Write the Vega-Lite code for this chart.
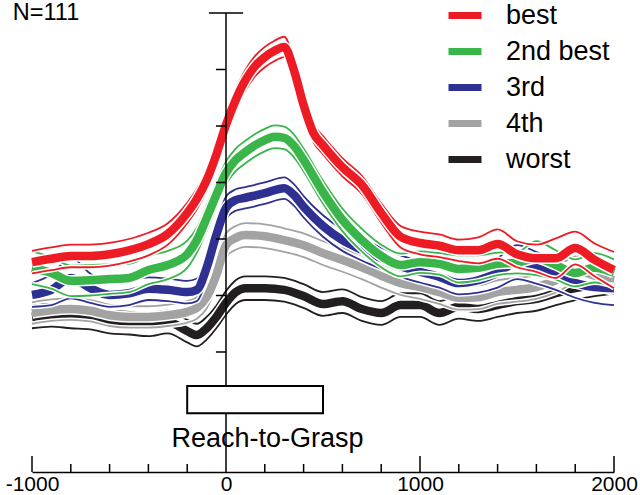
{
"$schema":"https://vega.github.io/schema/vega-lite/v6.json",
"autosize":{"type":"none"},
"padding":{"left":32,"top":13,"right":26,"bottom":23},
"width":582,"height":459,
"config":{"view":{"stroke":null},"font":"Liberation Sans","axisY":{"disable":true},"axisX":{"ticks":false,"grid":false,"domain":true,"domainColor":"black","domainWidth":1.5,"labelFont":"Liberation Sans","labelFontSize":21,"labelColor":"black","labelPadding":1,"labelFlush":false,"labelOverlap":false,"titleOpacity":0},"legend":{"orient":"none","legendX":413,"legendY":-17.5,"symbolType":"stroke","symbolStrokeWidth":7,"symbolSize":1089,"symbolOpacity":1,"labelFont":"Liberation Sans","labelFontSize":27,"labelColor":"black","labelOffset":21,"rowPadding":2,"padding":0}},
"data":{"values":[
{"s":"best","t":-1000,"m":35.9,"lo":33.9,"hi":37.9},{"s":"best","t":-900,"m":36.5,"lo":34.5,"hi":38.5},{"s":"best","t":-800,"m":37.0,"lo":35.0,"hi":39.0},{"s":"best","t":-700,"m":37.0,"lo":35.0,"hi":39.0},{"s":"best","t":-600,"m":37.3,"lo":35.3,"hi":39.3},{"s":"best","t":-500,"m":38.0,"lo":36.0,"hi":40.0},{"s":"best","t":-400,"m":39.1,"lo":37.1,"hi":41.1},{"s":"best","t":-300,"m":40.9,"lo":39.0,"hi":42.8},{"s":"best","t":-200,"m":44.6,"lo":42.8,"hi":46.4},{"s":"best","t":-150,"m":47.1,"lo":45.3,"hi":48.9},{"s":"best","t":-100,"m":50.4,"lo":48.6,"hi":52.2},{"s":"best","t":-50,"m":54.9,"lo":53.1,"hi":56.7},{"s":"best","t":0,"m":60.2,"lo":58.4,"hi":62.0},{"s":"best","t":50,"m":64.6,"lo":62.8,"hi":66.4},{"s":"best","t":100,"m":68.1,"lo":66.3,"hi":69.9},{"s":"best","t":150,"m":70.6,"lo":68.8,"hi":72.4},{"s":"best","t":200,"m":72.2,"lo":70.4,"hi":74.0},{"s":"best","t":250,"m":73.3,"lo":71.5,"hi":75.1},{"s":"best","t":300,"m":74.0,"lo":72.2,"hi":75.8},{"s":"best","t":350,"m":69.9,"lo":68.2,"hi":71.6},{"s":"best","t":400,"m":63.7,"lo":62.1,"hi":65.3},{"s":"best","t":450,"m":58.8,"lo":57.2,"hi":60.4},{"s":"best","t":500,"m":56.6,"lo":55.0,"hi":58.2},{"s":"best","t":600,"m":52.7,"lo":51.1,"hi":54.3},{"s":"best","t":700,"m":49.6,"lo":48.0,"hi":51.2},{"s":"best","t":800,"m":44.6,"lo":42.9,"hi":46.3},{"s":"best","t":900,"m":40.4,"lo":38.5,"hi":42.3},{"s":"best","t":1000,"m":39.3,"lo":37.3,"hi":41.3},{"s":"best","t":1100,"m":38.8,"lo":36.8,"hi":40.8},{"s":"best","t":1200,"m":38.0,"lo":36.1,"hi":39.9},{"s":"best","t":1300,"m":38.0,"lo":35.7,"hi":40.3},{"s":"best","t":1400,"m":39.1,"lo":36.5,"hi":41.7},{"s":"best","t":1500,"m":37.3,"lo":35.0,"hi":39.6},{"s":"best","t":1600,"m":36.6,"lo":34.2,"hi":39.0},{"s":"best","t":1700,"m":36.6,"lo":33.1,"hi":40.1},{"s":"best","t":1800,"m":38.4,"lo":35.5,"hi":41.3},{"s":"best","t":1900,"m":36.3,"lo":33.4,"hi":39.2},{"s":"best","t":2000,"m":34.5,"lo":31.3,"hi":37.7},
{"s":"2nd best","t":-1000,"m":34.9,"lo":32.0,"hi":37.8},{"s":"2nd best","t":-900,"m":34.0,"lo":31.2,"hi":36.8},{"s":"2nd best","t":-800,"m":32.6,"lo":29.9,"hi":35.3},{"s":"2nd best","t":-700,"m":32.7,"lo":30.0,"hi":35.4},{"s":"2nd best","t":-600,"m":32.9,"lo":30.3,"hi":35.5},{"s":"2nd best","t":-500,"m":33.1,"lo":30.6,"hi":35.6},{"s":"2nd best","t":-400,"m":34.5,"lo":32.0,"hi":37.0},{"s":"2nd best","t":-300,"m":35.4,"lo":32.9,"hi":37.9},{"s":"2nd best","t":-200,"m":37.3,"lo":34.9,"hi":39.7},{"s":"2nd best","t":-150,"m":39.8,"lo":37.6,"hi":42.0},{"s":"2nd best","t":-100,"m":43.7,"lo":41.5,"hi":45.9},{"s":"2nd best","t":-50,"m":47.8,"lo":45.7,"hi":49.9},{"s":"2nd best","t":0,"m":51.7,"lo":49.7,"hi":53.7},{"s":"2nd best","t":50,"m":54.0,"lo":52.0,"hi":56.0},{"s":"2nd best","t":100,"m":55.4,"lo":53.4,"hi":57.4},{"s":"2nd best","t":150,"m":56.6,"lo":54.6,"hi":58.6},{"s":"2nd best","t":200,"m":57.5,"lo":55.5,"hi":59.5},{"s":"2nd best","t":250,"m":58.1,"lo":56.1,"hi":60.1},{"s":"2nd best","t":300,"m":57.9,"lo":55.9,"hi":59.9},{"s":"2nd best","t":350,"m":56.5,"lo":54.5,"hi":58.5},{"s":"2nd best","t":400,"m":54.0,"lo":52.0,"hi":56.0},{"s":"2nd best","t":500,"m":48.3,"lo":46.3,"hi":50.3},{"s":"2nd best","t":600,"m":43.4,"lo":41.4,"hi":45.4},{"s":"2nd best","t":700,"m":39.8,"lo":37.8,"hi":41.8},{"s":"2nd best","t":800,"m":37.0,"lo":35.0,"hi":39.0},{"s":"2nd best","t":900,"m":35.4,"lo":33.4,"hi":37.4},{"s":"2nd best","t":1000,"m":35.9,"lo":34.0,"hi":37.8},{"s":"2nd best","t":1100,"m":35.6,"lo":33.7,"hi":37.5},{"s":"2nd best","t":1200,"m":34.7,"lo":32.3,"hi":37.1},{"s":"2nd best","t":1300,"m":34.9,"lo":32.7,"hi":37.1},{"s":"2nd best","t":1400,"m":35.6,"lo":33.6,"hi":37.6},{"s":"2nd best","t":1500,"m":35.8,"lo":33.9,"hi":37.7},{"s":"2nd best","t":1600,"m":36.6,"lo":33.6,"hi":39.6},{"s":"2nd best","t":1700,"m":35.4,"lo":32.8,"hi":38.0},{"s":"2nd best","t":1800,"m":34.0,"lo":31.6,"hi":36.4},{"s":"2nd best","t":1900,"m":34.9,"lo":32.3,"hi":37.5},{"s":"2nd best","t":2000,"m":34.0,"lo":31.6,"hi":36.4},
{"s":"3rd","t":-1000,"m":30.1,"lo":28.0,"hi":32.2},{"s":"3rd","t":-900,"m":31.0,"lo":28.3,"hi":33.7},{"s":"3rd","t":-800,"m":33.1,"lo":29.5,"hi":36.7},{"s":"3rd","t":-700,"m":31.3,"lo":28.7,"hi":33.9},{"s":"3rd","t":-600,"m":30.1,"lo":28.0,"hi":32.2},{"s":"3rd","t":-500,"m":30.4,"lo":28.3,"hi":32.5},{"s":"3rd","t":-400,"m":31.2,"lo":29.2,"hi":33.2},{"s":"3rd","t":-300,"m":31.0,"lo":29.0,"hi":33.0},{"s":"3rd","t":-200,"m":30.6,"lo":28.6,"hi":32.6},{"s":"3rd","t":-150,"m":31.0,"lo":29.0,"hi":33.0},{"s":"3rd","t":-100,"m":34.9,"lo":32.9,"hi":36.9},{"s":"3rd","t":-50,"m":40.7,"lo":38.7,"hi":42.7},{"s":"3rd","t":0,"m":45.5,"lo":43.5,"hi":47.5},{"s":"3rd","t":50,"m":46.9,"lo":45.0,"hi":48.8},{"s":"3rd","t":100,"m":47.3,"lo":45.4,"hi":49.2},{"s":"3rd","t":200,"m":48.1,"lo":46.2,"hi":50.0},{"s":"3rd","t":300,"m":49.0,"lo":47.1,"hi":50.9},{"s":"3rd","t":350,"m":47.8,"lo":45.9,"hi":49.7},{"s":"3rd","t":400,"m":45.7,"lo":43.8,"hi":47.6},{"s":"3rd","t":500,"m":42.3,"lo":40.4,"hi":44.2},{"s":"3rd","t":600,"m":39.8,"lo":37.9,"hi":41.7},{"s":"3rd","t":700,"m":38.1,"lo":36.2,"hi":40.0},{"s":"3rd","t":800,"m":36.6,"lo":34.7,"hi":38.5},{"s":"3rd","t":900,"m":35.2,"lo":33.3,"hi":37.1},{"s":"3rd","t":1000,"m":34.2,"lo":32.3,"hi":36.1},{"s":"3rd","t":1100,"m":33.3,"lo":31.4,"hi":35.2},{"s":"3rd","t":1200,"m":32.2,"lo":30.2,"hi":34.2},{"s":"3rd","t":1300,"m":32.7,"lo":30.5,"hi":34.9},{"s":"3rd","t":1400,"m":34.0,"lo":31.4,"hi":36.6},{"s":"3rd","t":1500,"m":35.9,"lo":32.9,"hi":38.9},{"s":"3rd","t":1600,"m":34.9,"lo":32.1,"hi":37.7},{"s":"3rd","t":1700,"m":33.6,"lo":31.0,"hi":36.2},{"s":"3rd","t":1800,"m":32.2,"lo":29.6,"hi":34.8},{"s":"3rd","t":1900,"m":31.5,"lo":28.7,"hi":34.3},{"s":"3rd","t":2000,"m":31.3,"lo":28.3,"hi":34.3},
{"s":"4th","t":-1000,"m":26.9,"lo":25.0,"hi":28.8},{"s":"4th","t":-900,"m":27.4,"lo":25.5,"hi":29.3},{"s":"4th","t":-800,"m":27.6,"lo":25.7,"hi":29.5},{"s":"4th","t":-700,"m":27.3,"lo":25.4,"hi":29.2},{"s":"4th","t":-600,"m":26.5,"lo":24.6,"hi":28.4},{"s":"4th","t":-500,"m":26.2,"lo":24.3,"hi":28.1},{"s":"4th","t":-400,"m":26.2,"lo":24.3,"hi":28.1},{"s":"4th","t":-300,"m":26.5,"lo":24.6,"hi":28.4},{"s":"4th","t":-200,"m":27.1,"lo":25.2,"hi":29.0},{"s":"4th","t":-150,"m":27.8,"lo":25.9,"hi":29.7},{"s":"4th","t":-100,"m":29.7,"lo":27.7,"hi":31.7},{"s":"4th","t":-50,"m":33.6,"lo":31.6,"hi":35.6},{"s":"4th","t":0,"m":38.9,"lo":36.8,"hi":41.0},{"s":"4th","t":50,"m":40.2,"lo":38.1,"hi":42.3},{"s":"4th","t":100,"m":40.7,"lo":38.6,"hi":42.8},{"s":"4th","t":200,"m":40.5,"lo":38.4,"hi":42.6},{"s":"4th","t":300,"m":39.8,"lo":37.7,"hi":41.9},{"s":"4th","t":400,"m":38.9,"lo":36.8,"hi":41.0},{"s":"4th","t":500,"m":37.5,"lo":35.4,"hi":39.6},{"s":"4th","t":600,"m":36.3,"lo":34.2,"hi":38.4},{"s":"4th","t":700,"m":35.0,"lo":32.9,"hi":37.1},{"s":"4th","t":800,"m":33.5,"lo":31.4,"hi":35.6},{"s":"4th","t":900,"m":32.2,"lo":30.1,"hi":34.3},{"s":"4th","t":1000,"m":31.5,"lo":29.4,"hi":33.6},{"s":"4th","t":1100,"m":30.6,"lo":28.5,"hi":32.7},{"s":"4th","t":1200,"m":29.6,"lo":27.5,"hi":31.7},{"s":"4th","t":1300,"m":29.7,"lo":27.6,"hi":31.8},{"s":"4th","t":1400,"m":30.6,"lo":28.5,"hi":32.7},{"s":"4th","t":1500,"m":31.0,"lo":28.9,"hi":33.1},{"s":"4th","t":1600,"m":31.5,"lo":29.4,"hi":33.6},{"s":"4th","t":1700,"m":32.7,"lo":30.5,"hi":34.9},{"s":"4th","t":1800,"m":34.5,"lo":32.1,"hi":36.9},{"s":"4th","t":1900,"m":33.5,"lo":31.1,"hi":35.9},{"s":"4th","t":2000,"m":32.7,"lo":30.3,"hi":35.1},
{"s":"worst","t":-1000,"m":26.2,"lo":24.2,"hi":28.2},{"s":"worst","t":-900,"m":26.5,"lo":24.5,"hi":28.5},{"s":"worst","t":-800,"m":26.2,"lo":24.2,"hi":28.2},{"s":"worst","t":-700,"m":26.0,"lo":24.0,"hi":28.0},{"s":"worst","t":-600,"m":25.3,"lo":23.3,"hi":27.3},{"s":"worst","t":-500,"m":25.1,"lo":23.1,"hi":27.1},{"s":"worst","t":-400,"m":24.8,"lo":22.8,"hi":26.8},{"s":"worst","t":-300,"m":25.3,"lo":23.3,"hi":27.3},{"s":"worst","t":-200,"m":23.7,"lo":21.7,"hi":25.7},{"s":"worst","t":-150,"m":23.0,"lo":21.0,"hi":25.0},{"s":"worst","t":-100,"m":24.2,"lo":22.2,"hi":26.2},{"s":"worst","t":-50,"m":26.2,"lo":24.2,"hi":28.2},{"s":"worst","t":0,"m":28.7,"lo":26.6,"hi":30.8},{"s":"worst","t":50,"m":30.6,"lo":28.5,"hi":32.7},{"s":"worst","t":100,"m":31.3,"lo":29.2,"hi":33.4},{"s":"worst","t":200,"m":31.3,"lo":29.2,"hi":33.4},{"s":"worst","t":300,"m":31.0,"lo":28.9,"hi":33.1},{"s":"worst","t":400,"m":29.9,"lo":27.8,"hi":32.0},{"s":"worst","t":500,"m":28.5,"lo":26.4,"hi":30.6},{"s":"worst","t":600,"m":29.0,"lo":26.9,"hi":31.1},{"s":"worst","t":700,"m":27.6,"lo":25.5,"hi":29.7},{"s":"worst","t":800,"m":26.9,"lo":24.8,"hi":29.0},{"s":"worst","t":900,"m":28.3,"lo":26.2,"hi":30.4},{"s":"worst","t":1000,"m":28.3,"lo":26.2,"hi":30.4},{"s":"worst","t":1100,"m":26.9,"lo":24.8,"hi":29.0},{"s":"worst","t":1200,"m":28.0,"lo":25.9,"hi":30.1},{"s":"worst","t":1300,"m":27.6,"lo":25.5,"hi":29.7},{"s":"worst","t":1400,"m":28.3,"lo":26.2,"hi":30.4},{"s":"worst","t":1500,"m":29.0,"lo":26.9,"hi":31.1},{"s":"worst","t":1600,"m":29.4,"lo":27.3,"hi":31.5},{"s":"worst","t":1700,"m":30.4,"lo":28.3,"hi":32.5},{"s":"worst","t":1800,"m":31.3,"lo":29.2,"hi":33.4},{"s":"worst","t":1900,"m":32.0,"lo":29.9,"hi":34.1},{"s":"worst","t":2000,"m":32.4,"lo":30.3,"hi":34.5}
]},
"layer":[
{"transform":[{"filter":"datum.s==='worst'"}],"encoding":{"x":{"field":"t","type":"quantitative","title":null,"scale":{"domain":[-1000,2000],"nice":false,"zero":false},"axis":{"values":[-1000,0,1000,2000],"labelExpr":"'' + datum.value"}}},"layer":[
 {"transform":[{"fold":["hi","lo"],"as":["k","v"]}],"mark":{"type":"line","interpolate":"monotone","stroke":"white","strokeWidth":4.8},"encoding":{"y":{"field":"v","type":"quantitative","scale":{"domain":[-1.24,80],"nice":false,"zero":false}},"detail":{"field":"k","type":"nominal"}}},
 {"transform":[{"fold":["hi","lo"],"as":["k","v"]}],"mark":{"type":"line","interpolate":"monotone","strokeWidth":1.8},"encoding":{"y":{"field":"v","type":"quantitative","scale":{"domain":[-1.24,80],"nice":false,"zero":false}},"detail":{"field":"k","type":"nominal"},"color":{"field":"s","type":"nominal","title":null,"scale":{"domain":["best","2nd best","3rd","4th","worst"],"range":["#ED1C24","#39B54A","#2E3192","#A3A3A3","#231F20"]}}}},
 {"mark":{"type":"line","interpolate":"monotone","stroke":"white","strokeWidth":11.5},"encoding":{"y":{"field":"m","type":"quantitative","scale":{"domain":[-1.24,80],"nice":false,"zero":false}}}},
 {"mark":{"type":"line","interpolate":"monotone","strokeWidth":8.5},"encoding":{"y":{"field":"m","type":"quantitative","scale":{"domain":[-1.24,80],"nice":false,"zero":false}},"color":{"field":"s","type":"nominal","title":null,"scale":{"domain":["best","2nd best","3rd","4th","worst"],"range":["#ED1C24","#39B54A","#2E3192","#A3A3A3","#231F20"]},"legend":{"orient":"none","legendX":413,"legendY":-17.5,"symbolType":"stroke","symbolStrokeWidth":7,"symbolSize":1089,"labelFontSize":27,"labelOffset":21,"rowPadding":2,"padding":0}}}}
]},
{"transform":[{"filter":"datum.s==='4th'"}],"encoding":{"x":{"field":"t","type":"quantitative","title":null,"scale":{"domain":[-1000,2000],"nice":false,"zero":false},"axis":{"values":[-1000,0,1000,2000],"labelExpr":"'' + datum.value"}}},"layer":[
 {"transform":[{"fold":["hi","lo"],"as":["k","v"]}],"mark":{"type":"line","interpolate":"monotone","stroke":"white","strokeWidth":4.8},"encoding":{"y":{"field":"v","type":"quantitative","scale":{"domain":[-1.24,80],"nice":false,"zero":false}},"detail":{"field":"k","type":"nominal"}}},
 {"transform":[{"fold":["hi","lo"],"as":["k","v"]}],"mark":{"type":"line","interpolate":"monotone","strokeWidth":1.8},"encoding":{"y":{"field":"v","type":"quantitative","scale":{"domain":[-1.24,80],"nice":false,"zero":false}},"detail":{"field":"k","type":"nominal"},"color":{"field":"s","type":"nominal","title":null}}},
 {"mark":{"type":"line","interpolate":"monotone","stroke":"white","strokeWidth":11.5},"encoding":{"y":{"field":"m","type":"quantitative","scale":{"domain":[-1.24,80],"nice":false,"zero":false}}}},
 {"mark":{"type":"line","interpolate":"monotone","strokeWidth":8.5},"encoding":{"y":{"field":"m","type":"quantitative","scale":{"domain":[-1.24,80],"nice":false,"zero":false}},"color":{"field":"s","type":"nominal","title":null}}}
]},
{"transform":[{"filter":"datum.s==='3rd'"}],"encoding":{"x":{"field":"t","type":"quantitative","title":null,"scale":{"domain":[-1000,2000],"nice":false,"zero":false},"axis":{"values":[-1000,0,1000,2000],"labelExpr":"'' + datum.value"}}},"layer":[
 {"transform":[{"fold":["hi","lo"],"as":["k","v"]}],"mark":{"type":"line","interpolate":"monotone","stroke":"white","strokeWidth":4.8},"encoding":{"y":{"field":"v","type":"quantitative","scale":{"domain":[-1.24,80],"nice":false,"zero":false}},"detail":{"field":"k","type":"nominal"}}},
 {"transform":[{"fold":["hi","lo"],"as":["k","v"]}],"mark":{"type":"line","interpolate":"monotone","strokeWidth":1.8},"encoding":{"y":{"field":"v","type":"quantitative","scale":{"domain":[-1.24,80],"nice":false,"zero":false}},"detail":{"field":"k","type":"nominal"},"color":{"field":"s","type":"nominal","title":null}}},
 {"mark":{"type":"line","interpolate":"monotone","stroke":"white","strokeWidth":11.5},"encoding":{"y":{"field":"m","type":"quantitative","scale":{"domain":[-1.24,80],"nice":false,"zero":false}}}},
 {"mark":{"type":"line","interpolate":"monotone","strokeWidth":8.5},"encoding":{"y":{"field":"m","type":"quantitative","scale":{"domain":[-1.24,80],"nice":false,"zero":false}},"color":{"field":"s","type":"nominal","title":null}}}
]},
{"transform":[{"filter":"datum.s==='2nd best'"}],"encoding":{"x":{"field":"t","type":"quantitative","title":null,"scale":{"domain":[-1000,2000],"nice":false,"zero":false},"axis":{"values":[-1000,0,1000,2000],"labelExpr":"'' + datum.value"}}},"layer":[
 {"transform":[{"fold":["hi","lo"],"as":["k","v"]}],"mark":{"type":"line","interpolate":"monotone","stroke":"white","strokeWidth":4.8},"encoding":{"y":{"field":"v","type":"quantitative","scale":{"domain":[-1.24,80],"nice":false,"zero":false}},"detail":{"field":"k","type":"nominal"}}},
 {"transform":[{"fold":["hi","lo"],"as":["k","v"]}],"mark":{"type":"line","interpolate":"monotone","strokeWidth":1.8},"encoding":{"y":{"field":"v","type":"quantitative","scale":{"domain":[-1.24,80],"nice":false,"zero":false}},"detail":{"field":"k","type":"nominal"},"color":{"field":"s","type":"nominal","title":null}}},
 {"mark":{"type":"line","interpolate":"monotone","stroke":"white","strokeWidth":11.5},"encoding":{"y":{"field":"m","type":"quantitative","scale":{"domain":[-1.24,80],"nice":false,"zero":false}}}},
 {"mark":{"type":"line","interpolate":"monotone","strokeWidth":8.5},"encoding":{"y":{"field":"m","type":"quantitative","scale":{"domain":[-1.24,80],"nice":false,"zero":false}},"color":{"field":"s","type":"nominal","title":null}}}
]},
{"transform":[{"filter":"datum.s==='best'"}],"encoding":{"x":{"field":"t","type":"quantitative","title":null,"scale":{"domain":[-1000,2000],"nice":false,"zero":false},"axis":{"values":[-1000,0,1000,2000],"labelExpr":"'' + datum.value"}}},"layer":[
 {"transform":[{"fold":["hi","lo"],"as":["k","v"]}],"mark":{"type":"line","interpolate":"monotone","stroke":"white","strokeWidth":4.8},"encoding":{"y":{"field":"v","type":"quantitative","scale":{"domain":[-1.24,80],"nice":false,"zero":false}},"detail":{"field":"k","type":"nominal"}}},
 {"transform":[{"fold":["hi","lo"],"as":["k","v"]}],"mark":{"type":"line","interpolate":"monotone","strokeWidth":1.8},"encoding":{"y":{"field":"v","type":"quantitative","scale":{"domain":[-1.24,80],"nice":false,"zero":false}},"detail":{"field":"k","type":"nominal"},"color":{"field":"s","type":"nominal","title":null}}},
 {"mark":{"type":"line","interpolate":"monotone","stroke":"white","strokeWidth":11.5},"encoding":{"y":{"field":"m","type":"quantitative","scale":{"domain":[-1.24,80],"nice":false,"zero":false}}}},
 {"mark":{"type":"line","interpolate":"monotone","strokeWidth":8.5},"encoding":{"y":{"field":"m","type":"quantitative","scale":{"domain":[-1.24,80],"nice":false,"zero":false}},"color":{"field":"s","type":"nominal","title":null}}}
]},
{"data":{"values":[{"label":"Reach-to-Grasp"}]},"mark":{"type":"text","align":"left","baseline":"alphabetic","font":"Liberation Sans","fontSize":27,"color":"black"},"encoding":{"text":{"field":"label","type":"nominal"},"x":{"datum":-281,"type":"quantitative"},"y":{"datum":3.13,"type":"quantitative"}}},
{"data":{"values":[{"label":"N=111"}]},"mark":{"type":"text","align":"left","baseline":"alphabetic","font":"Liberation Sans","fontSize":23.5,"color":"black"},"encoding":{"text":{"field":"label","type":"nominal"},"x":{"datum":-1099,"type":"quantitative"},"y":{"datum":78.7,"type":"quantitative"}}},
{"data":{"values":[{"t":0}]},"mark":{"type":"rule","color":"black","strokeWidth":1.5},"encoding":{"x":{"field":"t","type":"quantitative","title":null},"y":{"datum":-1.24,"type":"quantitative"},"y2":{"datum":80}}},
{"data":{"values":[{"v":20},{"v":30},{"v":40},{"v":50},{"v":60},{"v":70}]},"mark":{"type":"rule","color":"black","strokeWidth":1.5},"encoding":{"x":{"datum":-52,"type":"quantitative"},"x2":{"datum":0},"y":{"field":"v","type":"quantitative","title":null}}},
{"data":{"values":[{"v":80}]},"mark":{"type":"rule","color":"black","strokeWidth":1.5},"encoding":{"x":{"datum":-88,"type":"quantitative"},"x2":{"datum":88},"y":{"field":"v","type":"quantitative","title":null}}},
{"data":{"values":[{"t":-1000},{"t":1000},{"t":2000}]},"mark":{"type":"rule","color":"black","strokeWidth":1.5},"encoding":{"x":{"field":"t","type":"quantitative","title":null},"y":{"datum":-1.24,"type":"quantitative"},"y2":{"datum":1.59}}},
{"data":{"values":[{"t":-800},{"t":-600},{"t":-400},{"t":-200},{"t":200},{"t":400},{"t":600},{"t":800},{"t":1200},{"t":1400},{"t":1600},{"t":1800}]},"mark":{"type":"rule","color":"black","strokeWidth":1.5},"encoding":{"x":{"field":"t","type":"quantitative","title":null},"y":{"datum":-1.24,"type":"quantitative"},"y2":{"datum":0.18}}},
{"data":{"values":[{"start":-200,"end":500}]},"mark":{"type":"rect","fill":"white","stroke":"black","strokeWidth":2},"encoding":{"x":{"field":"start","type":"quantitative","title":null},"x2":{"field":"end"},"y":{"datum":9.15,"type":"quantitative"},"y2":{"datum":14.0}}}
]
}
